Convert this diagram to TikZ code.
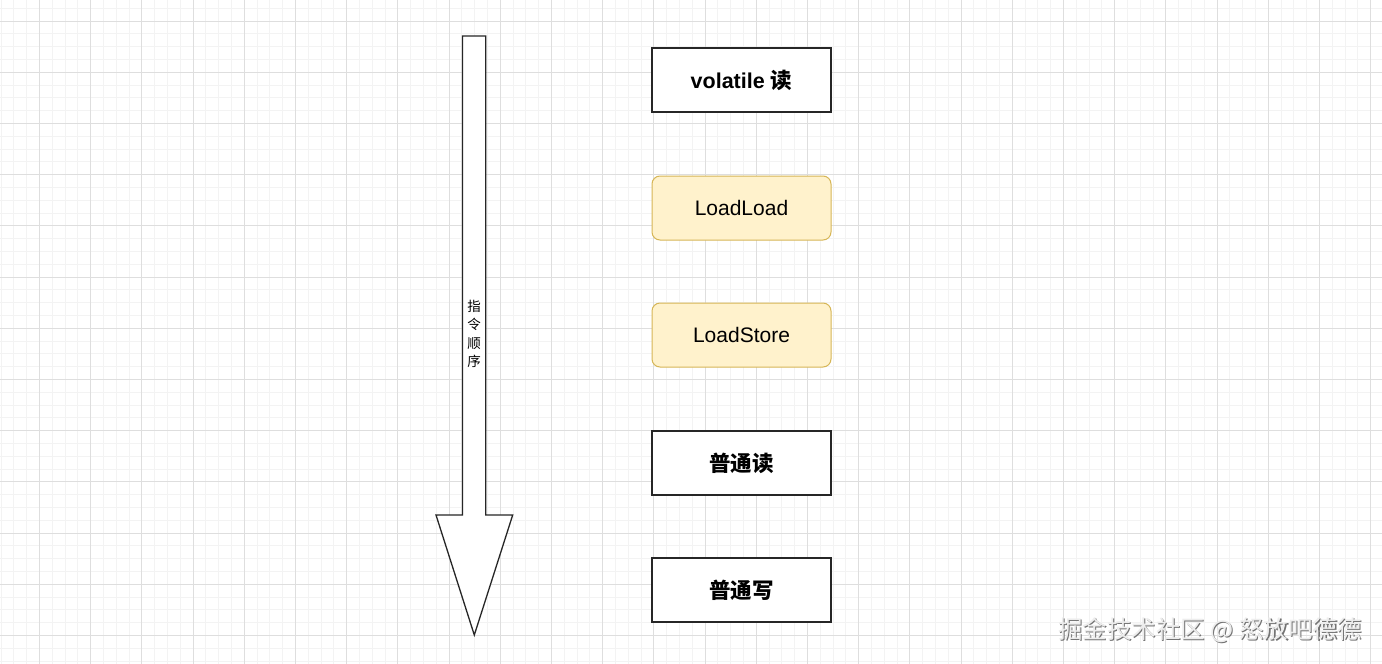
\documentclass[tikz,border=0pt]{standalone}
\usepackage{fontspec}
\setmainfont{Liberation Sans}
\newfontfamily\cjk{Noto Sans CJK SC}
\definecolor{minorgrid}{HTML}{F3F3F3}
\definecolor{majorgrid}{HTML}{DEDEDE}
\definecolor{yfill}{HTML}{FFF2CC}
\definecolor{ydraw}{HTML}{D6B656}
\definecolor{wm}{HTML}{EDEDED}
\tikzset{
  plainbox/.style={draw=black!85, line width=1.3pt, fill=white, minimum width=179pt, minimum height=64pt, inner sep=0pt},
  barrier/.style={draw=ydraw, line width=1pt, fill=yfill, rounded corners=8pt, minimum width=179pt, minimum height=64pt, inner sep=0pt, font=\fontsize{21}{25}\selectfont},
}
\begin{document}
\begin{tikzpicture}[x=1pt,y=-1pt]
\useasboundingbox (0,0) rectangle (1382,664);
\fill[white] (0,0) rectangle (1382,664);
% grid
\foreach \i in {-3,...,105} {
  \draw[minorgrid, line width=0.7pt] ({39.3+\i*12.8},0) -- ({39.3+\i*12.8},664);
}
\foreach \j in {-1,...,50} {
  \draw[minorgrid, line width=0.7pt] (0,{21+\j*12.8}) -- (1382,{21+\j*12.8});
}
\foreach \i in {-1,...,26} {
  \draw[majorgrid, line width=0.7pt] ({39.3+\i*51.2},0) -- ({39.3+\i*51.2},664);
}
\foreach \j in {-1,...,13} {
  \draw[majorgrid, line width=0.7pt] (0,{21+\j*51.2}) -- (1382,{21+\j*51.2});
}
% order arrow
\coordinate (tip) at (474.3,635);
\draw[black!85, line width=1.3pt, fill=white, line join=miter]
  (462.5,36) -- (485.7,36) -- (485.7,515) -- (512.7,515) -- (tip) -- (436,515) -- (462.5,515) -- cycle;
\node[font=\cjk\fontsize{13.5}{18.5}\selectfont, align=center, inner sep=0pt] (order) at (474,334) {指\\令\\顺\\序};
% boxes
\node[plainbox] (vr) at (741.5,80) {\fontsize{21.5}{25}\selectfont\bfseries volatile {\cjk\bfseries 读}};
\node[barrier] (ll) at (741.5,208) {LoadLoad};
\node[barrier] (ls) at (741.5,335) {LoadStore};
\node[plainbox] (nr) at (741.5,463) {\fontsize{21.5}{25}\selectfont\cjk\bfseries 普通读};
\node[plainbox] (nw) at (741.5,590) {\fontsize{21.5}{25}\selectfont\cjk\bfseries 普通写};
% watermark
\node[font=\cjk\fontsize{24.5}{28}\selectfont, text=black!55, anchor=east, inner sep=0pt] at (1363.3,631.3) {掘金技术社区 @ 怒放吧德德};
\node[font=\cjk\fontsize{24.5}{28}\selectfont, text=wm, anchor=east, inner sep=0pt] (wmk) at (1362,630) {掘金技术社区 @ 怒放吧德德};
\end{tikzpicture}
\end{document}
